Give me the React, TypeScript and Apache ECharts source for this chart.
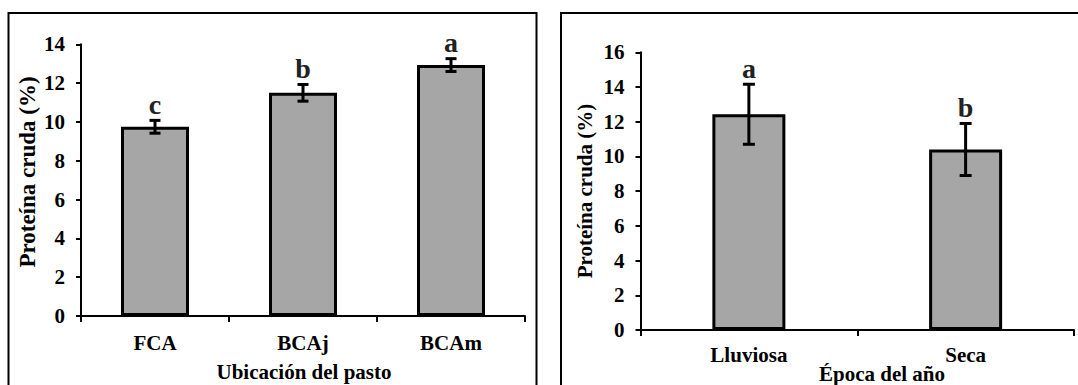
import React, { useEffect, useRef } from "react";
import * as echarts from "echarts";

const locCategories = ["FCA", "BCAj", "BCAm"];
const locMeans = [9.75, 11.5, 12.93];
const locErrors = [0.33, 0.43, 0.33];
const locLetters = ["c", "b", "a"];

const seasonCategories = ["Lluviosa", "Seca"];
const seasonMeans = [12.43, 10.4];
const seasonErrors = [1.73, 1.5];
const seasonLetters = ["a", "b"];

const yTitle = "Proteína cruda (%)";
const locTitle = "Ubicación del pasto";
const seasonTitle = "Época del año";

const FONT = "Liberation Serif";

function txt(text: string, size: number, fill = "#000") {
  return { text, fill, fontFamily: FONT, fontWeight: "bold", fontSize: size, align: "center", verticalAlign: "middle" };
}

function errorSeries(axisIndex: number, means: number[], errs: number[], letters: string[], capW: number) {
  return {
    type: "custom",
    xAxisIndex: axisIndex,
    yAxisIndex: axisIndex,
    data: means.map((m, i) => [i, m, errs[i]]),
    z: 10,
    renderItem: (params: any, api: any) => {
      const i = api.value(0);
      const m = api.value(1);
      const e = api.value(2);
      const top = api.coord([i, m + e]);
      const bot = api.coord([i, m - e]);
      const x = top[0];
      const st = { stroke: "#000", lineWidth: 3 };
      return {
        type: "group",
        children: [
          { type: "line", shape: { x1: x, y1: top[1], x2: x, y2: bot[1] }, style: st },
          { type: "line", shape: { x1: x - capW / 2, y1: top[1], x2: x + capW / 2, y2: top[1] }, style: st },
          { type: "line", shape: { x1: x - capW / 2, y1: bot[1], x2: x + capW / 2, y2: bot[1] }, style: st },
          {
            type: "text",
            x: x,
            y: top[1] - 2,
            style: { ...txt(letters[params.dataIndex], 28, "#222"), verticalAlign: "bottom" },
          },
        ],
      };
    },
  };
}

export default function App() {
  const ref = useRef<HTMLDivElement>(null);
  useEffect(() => {
    if (!ref.current) return;
    const chart = echarts.init(ref.current, null, { renderer: "svg" });
    const axisLine = { show: true, lineStyle: { color: "#000", width: 2 } };
    const yAxisCommon = (max: number) => ({
      type: "value",
      min: 0,
      max,
      interval: 2,
      axisLine,
      axisTick: { show: true, inside: false, length: 5, lineStyle: { color: "#000", width: 2 } },
      splitLine: { show: false },
      axisLabel: { color: "#000", fontFamily: FONT, fontWeight: "bold", fontSize: 21, margin: 16 },
    });
    const xAxisCommon = (cats: string[], idx: number, margin: number) => ({
      type: "category",
      gridIndex: idx,
      data: cats,
      axisLine,
      axisTick: { show: true, length: 6, alignWithLabel: false, lineStyle: { color: "#000", width: 2 } },
      axisLabel: { color: "#000", fontFamily: FONT, fontWeight: "bold", fontSize: 21, margin },
    });
    chart.setOption({
      animation: false,
      backgroundColor: "#fff",
      grid: [
        { left: 81, top: 44.3, width: 444, height: 271.7 },
        { left: 640.5, top: 52.3, width: 433.5, height: 277.7 },
      ],
      xAxis: [xAxisCommon(locCategories, 0, 16), xAxisCommon(seasonCategories, 1, 14)],
      yAxis: [
        { ...yAxisCommon(14), gridIndex: 0 },
        { ...yAxisCommon(16), gridIndex: 1 },
      ],
      series: [
        {
          type: "bar",
          xAxisIndex: 0,
          yAxisIndex: 0,
          data: locMeans,
          barWidth: 68,
          itemStyle: { color: "#a6a6a6", borderColor: "#000", borderWidth: 3 },
        },
        {
          type: "bar",
          xAxisIndex: 1,
          yAxisIndex: 1,
          data: seasonMeans,
          barWidth: 73,
          itemStyle: { color: "#a6a6a6", borderColor: "#000", borderWidth: 3 },
        },
        errorSeries(0, locMeans, locErrors, locLetters, 11),
        errorSeries(1, seasonMeans, seasonErrors, seasonLetters, 12),
      ],
      graphic: [
        {
          type: "rect",
          shape: { x: 8.5, y: 13, width: 528, height: 420 },
          style: { fill: "none", stroke: "#000", lineWidth: 2 },
          silent: true,
        },
        {
          type: "rect",
          shape: { x: 561, y: 13, width: 540, height: 420 },
          style: { fill: "none", stroke: "#000", lineWidth: 2 },
          silent: true,
        },
        { type: "text", x: 27, y: 172, rotation: Math.PI / 2, style: txt(yTitle, 23) },
        { type: "text", x: 585, y: 191, rotation: Math.PI / 2, style: txt(yTitle, 21) },
        { type: "text", x: 304, y: 372, style: txt(locTitle, 21) },
        { type: "text", x: 882, y: 374, style: txt(seasonTitle, 21) },
      ],
    });
    return () => chart.dispose();
  }, []);
  return <div ref={ref} style={{ position: "absolute", left: 0, top: 0, width: 1078, height: 385 }} />;
}
